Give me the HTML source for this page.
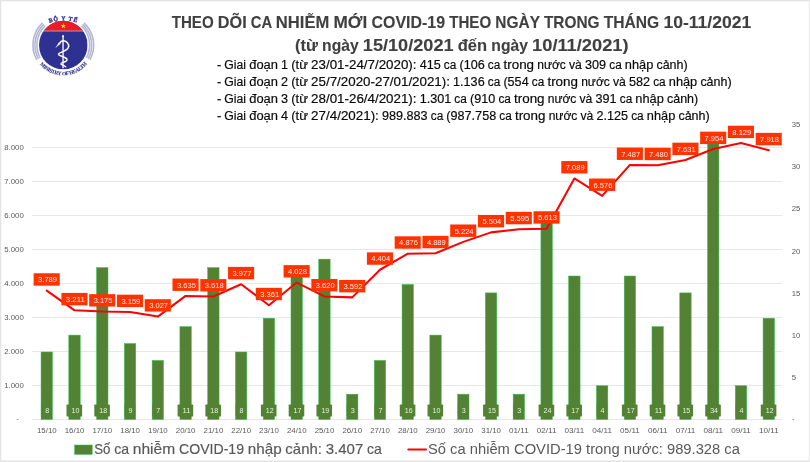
<!DOCTYPE html>
<html lang="vi"><head><meta charset="utf-8"><title>COVID-19</title>
<style>
html,body{margin:0;padding:0;background:#fff;}
body{width:810px;height:462px;overflow:hidden;font-family:"Liberation Sans",sans-serif;}
svg{display:block;font-family:"Liberation Sans",sans-serif;}
.ax{font-size:8.1px;fill:#595959;}
.dl{font-size:7.6px;fill:#fff;fill-opacity:0.9;}
.bl{font-size:7.7px;fill:#e4f2da;}
.sub{font-size:12.5px;fill:#0a0a0a;stroke:#0a0a0a;stroke-width:0.18px;}
.ttl{font-size:16.2px;font-weight:bold;fill:#404040;stroke:#404040;stroke-width:0.1px;}
.lg{font-size:14.8px;fill:#595959;stroke:#595959;stroke-width:0.18px;}
.lg2{font-size:14.45px;fill:#595959;}
</style></head><body>
<svg width="810" height="462" viewBox="0 0 810 462">
<rect x="0" y="0" width="810" height="462" fill="#fff"/>

<g stroke="#e4e4e4" stroke-width="0.9">
<line x1="32.2" y1="419.50" x2="782.3" y2="419.50"/>
<line x1="32.2" y1="385.50" x2="782.3" y2="385.50"/>
<line x1="32.2" y1="351.50" x2="782.3" y2="351.50"/>
<line x1="32.2" y1="317.50" x2="782.3" y2="317.50"/>
<line x1="32.2" y1="283.50" x2="782.3" y2="283.50"/>
<line x1="32.2" y1="249.50" x2="782.3" y2="249.50"/>
<line x1="32.2" y1="215.50" x2="782.3" y2="215.50"/>
<line x1="32.2" y1="181.50" x2="782.3" y2="181.50"/>
<line x1="32.2" y1="147.50" x2="782.3" y2="147.50"/>
</g>
<g class="ax" text-anchor="end">
<text x="4.2" y="388.30" text-anchor="start" textLength="19.6" lengthAdjust="spacingAndGlyphs">1.000</text>
<text x="4.2" y="354.30" text-anchor="start" textLength="19.6" lengthAdjust="spacingAndGlyphs">2.000</text>
<text x="4.2" y="320.30" text-anchor="start" textLength="19.6" lengthAdjust="spacingAndGlyphs">3.000</text>
<text x="4.2" y="286.30" text-anchor="start" textLength="19.6" lengthAdjust="spacingAndGlyphs">4.000</text>
<text x="4.2" y="252.30" text-anchor="start" textLength="19.6" lengthAdjust="spacingAndGlyphs">5.000</text>
<text x="4.2" y="218.30" text-anchor="start" textLength="19.6" lengthAdjust="spacingAndGlyphs">6.000</text>
<text x="4.2" y="184.30" text-anchor="start" textLength="19.6" lengthAdjust="spacingAndGlyphs">7.000</text>
<text x="4.2" y="150.30" text-anchor="start" textLength="19.6" lengthAdjust="spacingAndGlyphs">8.000</text>
<text x="18.6" y="421.40" font-size="6.5">-</text>
</g>
<g class="ax">
<text x="791.7" y="380.10" textLength="4.3" lengthAdjust="spacingAndGlyphs">5</text>
<text x="791.7" y="337.90" textLength="8.6" lengthAdjust="spacingAndGlyphs">10</text>
<text x="791.7" y="295.70" textLength="8.6" lengthAdjust="spacingAndGlyphs">15</text>
<text x="791.7" y="253.50" textLength="8.6" lengthAdjust="spacingAndGlyphs">20</text>
<text x="791.7" y="211.30" textLength="8.6" lengthAdjust="spacingAndGlyphs">25</text>
<text x="791.7" y="169.10" textLength="8.6" lengthAdjust="spacingAndGlyphs">30</text>
<text x="791.7" y="126.90" textLength="8.6" lengthAdjust="spacingAndGlyphs">35</text>
<text x="792.2" y="421.40" font-size="6.5">-</text>
</g>
<g fill="#548235" stroke="#2fbf4f" stroke-width="0.5">
<rect x="41.05" y="351.98" width="11.4" height="67.52"/>
<rect x="68.82" y="335.10" width="11.4" height="84.40"/>
<rect x="96.59" y="267.58" width="11.4" height="151.92"/>
<rect x="124.36" y="343.54" width="11.4" height="75.96"/>
<rect x="152.13" y="360.42" width="11.4" height="59.08"/>
<rect x="179.90" y="326.66" width="11.4" height="92.84"/>
<rect x="207.67" y="267.58" width="11.4" height="151.92"/>
<rect x="235.44" y="351.98" width="11.4" height="67.52"/>
<rect x="263.21" y="318.22" width="11.4" height="101.28"/>
<rect x="290.98" y="276.02" width="11.4" height="143.48"/>
<rect x="318.75" y="259.14" width="11.4" height="160.36"/>
<rect x="346.52" y="394.18" width="11.4" height="25.32"/>
<rect x="374.29" y="360.42" width="11.4" height="59.08"/>
<rect x="402.06" y="284.46" width="11.4" height="135.04"/>
<rect x="429.83" y="335.10" width="11.4" height="84.40"/>
<rect x="457.60" y="394.18" width="11.4" height="25.32"/>
<rect x="485.37" y="292.90" width="11.4" height="126.60"/>
<rect x="513.14" y="394.18" width="11.4" height="25.32"/>
<rect x="540.91" y="216.94" width="11.4" height="202.56"/>
<rect x="568.68" y="276.02" width="11.4" height="143.48"/>
<rect x="596.45" y="385.74" width="11.4" height="33.76"/>
<rect x="624.22" y="276.02" width="11.4" height="143.48"/>
<rect x="651.99" y="326.66" width="11.4" height="92.84"/>
<rect x="679.76" y="292.90" width="11.4" height="126.60"/>
<rect x="707.53" y="132.54" width="11.4" height="286.96"/>
<rect x="735.30" y="385.74" width="11.4" height="33.76"/>
<rect x="763.07" y="318.22" width="11.4" height="101.28"/>
</g>
<g fill="#548235">
<rect x="41.25" y="404.4" width="10.6" height="12.2" rx="0.9"/>
<rect x="66.52" y="404.4" width="15.6" height="12.2" rx="0.9"/>
<rect x="94.29" y="404.4" width="15.6" height="12.2" rx="0.9"/>
<rect x="124.56" y="404.4" width="10.6" height="12.2" rx="0.9"/>
<rect x="152.33" y="404.4" width="10.6" height="12.2" rx="0.9"/>
<rect x="177.60" y="404.4" width="15.6" height="12.2" rx="0.9"/>
<rect x="205.37" y="404.4" width="15.6" height="12.2" rx="0.9"/>
<rect x="235.64" y="404.4" width="10.6" height="12.2" rx="0.9"/>
<rect x="260.91" y="404.4" width="15.6" height="12.2" rx="0.9"/>
<rect x="288.68" y="404.4" width="15.6" height="12.2" rx="0.9"/>
<rect x="316.45" y="404.4" width="15.6" height="12.2" rx="0.9"/>
<rect x="346.72" y="404.4" width="10.6" height="12.2" rx="0.9"/>
<rect x="374.49" y="404.4" width="10.6" height="12.2" rx="0.9"/>
<rect x="399.76" y="404.4" width="15.6" height="12.2" rx="0.9"/>
<rect x="427.53" y="404.4" width="15.6" height="12.2" rx="0.9"/>
<rect x="457.80" y="404.4" width="10.6" height="12.2" rx="0.9"/>
<rect x="483.07" y="404.4" width="15.6" height="12.2" rx="0.9"/>
<rect x="513.34" y="404.4" width="10.6" height="12.2" rx="0.9"/>
<rect x="538.61" y="404.4" width="15.6" height="12.2" rx="0.9"/>
<rect x="566.38" y="404.4" width="15.6" height="12.2" rx="0.9"/>
<rect x="596.65" y="404.4" width="10.6" height="12.2" rx="0.9"/>
<rect x="621.92" y="404.4" width="15.6" height="12.2" rx="0.9"/>
<rect x="649.69" y="404.4" width="15.6" height="12.2" rx="0.9"/>
<rect x="677.46" y="404.4" width="15.6" height="12.2" rx="0.9"/>
<rect x="705.23" y="404.4" width="15.6" height="12.2" rx="0.9"/>
<rect x="735.50" y="404.4" width="10.6" height="12.2" rx="0.9"/>
<rect x="760.77" y="404.4" width="15.6" height="12.2" rx="0.9"/>
</g>
<g class="bl">
<text x="45.17" y="413.2" textLength="4.0" lengthAdjust="spacingAndGlyphs">8</text>
<text x="71.46" y="413.2" textLength="7.9" lengthAdjust="spacingAndGlyphs">10</text>
<text x="99.23" y="413.2" textLength="7.9" lengthAdjust="spacingAndGlyphs">18</text>
<text x="128.48" y="413.2" textLength="4.0" lengthAdjust="spacingAndGlyphs">9</text>
<text x="156.25" y="413.2" textLength="4.0" lengthAdjust="spacingAndGlyphs">7</text>
<text x="182.54" y="413.2" textLength="7.9" lengthAdjust="spacingAndGlyphs">11</text>
<text x="210.31" y="413.2" textLength="7.9" lengthAdjust="spacingAndGlyphs">18</text>
<text x="239.56" y="413.2" textLength="4.0" lengthAdjust="spacingAndGlyphs">8</text>
<text x="265.85" y="413.2" textLength="7.9" lengthAdjust="spacingAndGlyphs">12</text>
<text x="293.62" y="413.2" textLength="7.9" lengthAdjust="spacingAndGlyphs">17</text>
<text x="321.39" y="413.2" textLength="7.9" lengthAdjust="spacingAndGlyphs">19</text>
<text x="350.64" y="413.2" textLength="4.0" lengthAdjust="spacingAndGlyphs">3</text>
<text x="378.41" y="413.2" textLength="4.0" lengthAdjust="spacingAndGlyphs">7</text>
<text x="404.70" y="413.2" textLength="7.9" lengthAdjust="spacingAndGlyphs">16</text>
<text x="432.47" y="413.2" textLength="7.9" lengthAdjust="spacingAndGlyphs">10</text>
<text x="461.72" y="413.2" textLength="4.0" lengthAdjust="spacingAndGlyphs">3</text>
<text x="488.01" y="413.2" textLength="7.9" lengthAdjust="spacingAndGlyphs">15</text>
<text x="517.26" y="413.2" textLength="4.0" lengthAdjust="spacingAndGlyphs">3</text>
<text x="543.55" y="413.2" textLength="7.9" lengthAdjust="spacingAndGlyphs">24</text>
<text x="571.32" y="413.2" textLength="7.9" lengthAdjust="spacingAndGlyphs">17</text>
<text x="600.57" y="413.2" textLength="4.0" lengthAdjust="spacingAndGlyphs">4</text>
<text x="626.86" y="413.2" textLength="7.9" lengthAdjust="spacingAndGlyphs">17</text>
<text x="654.63" y="413.2" textLength="7.9" lengthAdjust="spacingAndGlyphs">11</text>
<text x="682.40" y="413.2" textLength="7.9" lengthAdjust="spacingAndGlyphs">15</text>
<text x="710.17" y="413.2" textLength="7.9" lengthAdjust="spacingAndGlyphs">34</text>
<text x="739.42" y="413.2" textLength="4.0" lengthAdjust="spacingAndGlyphs">4</text>
<text x="765.71" y="413.2" textLength="7.9" lengthAdjust="spacingAndGlyphs">12</text>
</g>
<g class="ax" text-anchor="middle">
<text x="36.95" y="433.1" text-anchor="start" textLength="19.7" lengthAdjust="spacingAndGlyphs">15/10</text>
<text x="64.72" y="433.1" text-anchor="start" textLength="19.7" lengthAdjust="spacingAndGlyphs">16/10</text>
<text x="92.49" y="433.1" text-anchor="start" textLength="19.7" lengthAdjust="spacingAndGlyphs">17/10</text>
<text x="120.26" y="433.1" text-anchor="start" textLength="19.7" lengthAdjust="spacingAndGlyphs">18/10</text>
<text x="148.03" y="433.1" text-anchor="start" textLength="19.7" lengthAdjust="spacingAndGlyphs">19/10</text>
<text x="175.80" y="433.1" text-anchor="start" textLength="19.7" lengthAdjust="spacingAndGlyphs">20/10</text>
<text x="203.57" y="433.1" text-anchor="start" textLength="19.7" lengthAdjust="spacingAndGlyphs">21/10</text>
<text x="231.34" y="433.1" text-anchor="start" textLength="19.7" lengthAdjust="spacingAndGlyphs">22/10</text>
<text x="259.11" y="433.1" text-anchor="start" textLength="19.7" lengthAdjust="spacingAndGlyphs">23/10</text>
<text x="286.88" y="433.1" text-anchor="start" textLength="19.7" lengthAdjust="spacingAndGlyphs">24/10</text>
<text x="314.65" y="433.1" text-anchor="start" textLength="19.7" lengthAdjust="spacingAndGlyphs">25/10</text>
<text x="342.42" y="433.1" text-anchor="start" textLength="19.7" lengthAdjust="spacingAndGlyphs">26/10</text>
<text x="370.19" y="433.1" text-anchor="start" textLength="19.7" lengthAdjust="spacingAndGlyphs">27/10</text>
<text x="397.96" y="433.1" text-anchor="start" textLength="19.7" lengthAdjust="spacingAndGlyphs">28/10</text>
<text x="425.73" y="433.1" text-anchor="start" textLength="19.7" lengthAdjust="spacingAndGlyphs">29/10</text>
<text x="453.50" y="433.1" text-anchor="start" textLength="19.7" lengthAdjust="spacingAndGlyphs">30/10</text>
<text x="481.27" y="433.1" text-anchor="start" textLength="19.7" lengthAdjust="spacingAndGlyphs">31/10</text>
<text x="509.04" y="433.1" text-anchor="start" textLength="19.7" lengthAdjust="spacingAndGlyphs">01/11</text>
<text x="536.81" y="433.1" text-anchor="start" textLength="19.7" lengthAdjust="spacingAndGlyphs">02/11</text>
<text x="564.58" y="433.1" text-anchor="start" textLength="19.7" lengthAdjust="spacingAndGlyphs">03/11</text>
<text x="592.35" y="433.1" text-anchor="start" textLength="19.7" lengthAdjust="spacingAndGlyphs">04/11</text>
<text x="620.12" y="433.1" text-anchor="start" textLength="19.7" lengthAdjust="spacingAndGlyphs">05/11</text>
<text x="647.89" y="433.1" text-anchor="start" textLength="19.7" lengthAdjust="spacingAndGlyphs">06/11</text>
<text x="675.66" y="433.1" text-anchor="start" textLength="19.7" lengthAdjust="spacingAndGlyphs">07/11</text>
<text x="703.43" y="433.1" text-anchor="start" textLength="19.7" lengthAdjust="spacingAndGlyphs">08/11</text>
<text x="731.20" y="433.1" text-anchor="start" textLength="19.7" lengthAdjust="spacingAndGlyphs">09/11</text>
<text x="758.97" y="433.1" text-anchor="start" textLength="19.7" lengthAdjust="spacingAndGlyphs">10/11</text>
</g>
<polyline points="46.75,290.67 74.52,310.33 102.29,311.55 130.06,312.09 157.83,316.58 185.60,295.91 213.37,296.49 241.14,284.28 268.91,305.23 296.68,282.55 324.45,296.42 352.22,297.37 379.99,269.76 407.76,253.72 435.53,253.27 463.30,241.88 491.07,232.36 518.84,229.27 546.61,228.66 574.38,178.47 602.15,195.92 629.92,164.94 657.69,165.18 685.46,160.05 713.23,149.06 741.00,143.11 768.77,150.29" fill="none" stroke="#ff0000" stroke-width="2.05" stroke-linejoin="round" stroke-linecap="round"/>
<g fill="#ff3300">
<rect x="33.65" y="273.27" width="26.1" height="12.4"/>
<rect x="61.42" y="292.93" width="26.1" height="12.4"/>
<rect x="89.19" y="294.15" width="26.1" height="12.4"/>
<rect x="116.96" y="294.69" width="26.1" height="12.4"/>
<rect x="144.73" y="299.18" width="26.1" height="12.4"/>
<rect x="172.50" y="278.51" width="26.1" height="12.4"/>
<rect x="200.27" y="279.09" width="26.1" height="12.4"/>
<rect x="228.04" y="266.88" width="26.1" height="12.4"/>
<rect x="255.81" y="287.83" width="26.1" height="12.4"/>
<rect x="283.58" y="265.15" width="26.1" height="12.4"/>
<rect x="311.35" y="279.02" width="26.1" height="12.4"/>
<rect x="339.12" y="279.97" width="26.1" height="12.4"/>
<rect x="366.89" y="252.36" width="26.1" height="12.4"/>
<rect x="394.66" y="236.32" width="26.1" height="12.4"/>
<rect x="422.43" y="235.87" width="26.1" height="12.4"/>
<rect x="450.20" y="224.48" width="26.1" height="12.4"/>
<rect x="477.97" y="214.96" width="26.1" height="12.4"/>
<rect x="505.74" y="211.87" width="26.1" height="12.4"/>
<rect x="533.51" y="211.26" width="26.1" height="12.4"/>
<rect x="561.28" y="161.07" width="26.1" height="12.4"/>
<rect x="589.05" y="178.52" width="26.1" height="12.4"/>
<rect x="616.82" y="147.54" width="26.1" height="12.4"/>
<rect x="644.59" y="147.78" width="26.1" height="12.4"/>
<rect x="672.36" y="142.65" width="26.1" height="12.4"/>
<rect x="700.13" y="131.66" width="26.1" height="12.4"/>
<rect x="727.90" y="125.71" width="26.1" height="12.4"/>
<rect x="755.67" y="132.89" width="26.1" height="12.4"/>
</g>
<g class="dl">
<text x="38.10" y="282.37" textLength="18.9" lengthAdjust="spacingAndGlyphs">3.789</text>
<text x="65.87" y="302.03" textLength="18.9" lengthAdjust="spacingAndGlyphs">3.211</text>
<text x="93.64" y="303.25" textLength="18.9" lengthAdjust="spacingAndGlyphs">3.175</text>
<text x="121.41" y="303.79" textLength="18.9" lengthAdjust="spacingAndGlyphs">3.159</text>
<text x="149.18" y="308.28" textLength="18.9" lengthAdjust="spacingAndGlyphs">3.027</text>
<text x="176.95" y="287.61" textLength="18.9" lengthAdjust="spacingAndGlyphs">3.635</text>
<text x="204.72" y="288.19" textLength="18.9" lengthAdjust="spacingAndGlyphs">3.618</text>
<text x="232.49" y="275.98" textLength="18.9" lengthAdjust="spacingAndGlyphs">3.977</text>
<text x="260.26" y="296.93" textLength="18.9" lengthAdjust="spacingAndGlyphs">3.361</text>
<text x="288.03" y="274.25" textLength="18.9" lengthAdjust="spacingAndGlyphs">4.028</text>
<text x="315.80" y="288.12" textLength="18.9" lengthAdjust="spacingAndGlyphs">3.620</text>
<text x="343.57" y="289.07" textLength="18.9" lengthAdjust="spacingAndGlyphs">3.592</text>
<text x="371.34" y="261.46" textLength="18.9" lengthAdjust="spacingAndGlyphs">4.404</text>
<text x="399.11" y="245.42" textLength="18.9" lengthAdjust="spacingAndGlyphs">4.876</text>
<text x="426.88" y="244.97" textLength="18.9" lengthAdjust="spacingAndGlyphs">4.889</text>
<text x="454.65" y="233.58" textLength="18.9" lengthAdjust="spacingAndGlyphs">5.224</text>
<text x="482.42" y="224.06" textLength="18.9" lengthAdjust="spacingAndGlyphs">5.504</text>
<text x="510.19" y="220.97" textLength="18.9" lengthAdjust="spacingAndGlyphs">5.595</text>
<text x="537.96" y="220.36" textLength="18.9" lengthAdjust="spacingAndGlyphs">5.613</text>
<text x="565.73" y="170.17" textLength="18.9" lengthAdjust="spacingAndGlyphs">7.089</text>
<text x="593.50" y="187.62" textLength="18.9" lengthAdjust="spacingAndGlyphs">6.576</text>
<text x="621.27" y="156.64" textLength="18.9" lengthAdjust="spacingAndGlyphs">7.487</text>
<text x="649.04" y="156.88" textLength="18.9" lengthAdjust="spacingAndGlyphs">7.480</text>
<text x="676.81" y="151.75" textLength="18.9" lengthAdjust="spacingAndGlyphs">7.631</text>
<text x="704.58" y="140.76" textLength="18.9" lengthAdjust="spacingAndGlyphs">7.954</text>
<text x="732.35" y="134.81" textLength="18.9" lengthAdjust="spacingAndGlyphs">8.129</text>
<text x="760.12" y="141.99" textLength="18.9" lengthAdjust="spacingAndGlyphs">7.918</text>
</g>
<text class="ttl" y="28.00"><tspan x="171.70" textLength="42.00" lengthAdjust="spacingAndGlyphs">THEO</tspan> <tspan x="217.85" textLength="28.85" lengthAdjust="spacingAndGlyphs">DÕI</tspan> <tspan x="250.85" textLength="20.81" lengthAdjust="spacingAndGlyphs">CA</tspan> <tspan x="275.81" textLength="53.55" lengthAdjust="spacingAndGlyphs">NHIỄM</tspan> <tspan x="333.52" textLength="33.78" lengthAdjust="spacingAndGlyphs">MỚI</tspan> <tspan x="371.44" textLength="73.62" lengthAdjust="spacingAndGlyphs">COVID-19</tspan> <tspan x="449.21" textLength="42.00" lengthAdjust="spacingAndGlyphs">THEO</tspan> <tspan x="495.36" textLength="44.44" lengthAdjust="spacingAndGlyphs">NGÀY</tspan> <tspan x="543.95" textLength="55.61" lengthAdjust="spacingAndGlyphs">TRONG</tspan> <tspan x="603.71" textLength="55.55" lengthAdjust="spacingAndGlyphs">THÁNG</tspan> <tspan x="663.41" textLength="87.91" lengthAdjust="spacingAndGlyphs">10-11/2021</tspan></text>
<text class="ttl" y="51.00"><tspan x="295.00" textLength="22.94" lengthAdjust="spacingAndGlyphs">(từ</tspan> <tspan x="322.12" textLength="36.54" lengthAdjust="spacingAndGlyphs">ngày</tspan> <tspan x="362.84" textLength="90.76" lengthAdjust="spacingAndGlyphs">15/10/2021</tspan> <tspan x="457.78" textLength="29.40" lengthAdjust="spacingAndGlyphs">đến</tspan> <tspan x="491.35" textLength="36.54" lengthAdjust="spacingAndGlyphs">ngày</tspan> <tspan x="532.07" textLength="96.52" lengthAdjust="spacingAndGlyphs">10/11/2021)</tspan></text>
<text class="sub" y="69.00"><tspan x="217.00" textLength="4.24" lengthAdjust="spacingAndGlyphs">-</tspan> <tspan x="224.37" textLength="21.73" lengthAdjust="spacingAndGlyphs">Giai</tspan> <tspan x="249.23" textLength="28.72" lengthAdjust="spacingAndGlyphs">đoạn</tspan> <tspan x="281.08" textLength="7.02" lengthAdjust="spacingAndGlyphs">1</tspan> <tspan x="291.23" textLength="16.76" lengthAdjust="spacingAndGlyphs">(từ</tspan> <tspan x="311.12" textLength="105.41" lengthAdjust="spacingAndGlyphs">23/01-24/7/2020):</tspan> <tspan x="419.66" textLength="21.06" lengthAdjust="spacingAndGlyphs">415</tspan> <tspan x="443.85" textLength="12.49" lengthAdjust="spacingAndGlyphs">ca</tspan> <tspan x="459.48" textLength="25.26" lengthAdjust="spacingAndGlyphs">(106</tspan> <tspan x="487.87" textLength="12.49" lengthAdjust="spacingAndGlyphs">ca</tspan> <tspan x="503.49" textLength="30.57" lengthAdjust="spacingAndGlyphs">trong</tspan> <tspan x="537.19" textLength="28.69" lengthAdjust="spacingAndGlyphs">nước</tspan> <tspan x="569.01" textLength="12.89" lengthAdjust="spacingAndGlyphs">và</tspan> <tspan x="585.03" textLength="21.06" lengthAdjust="spacingAndGlyphs">309</tspan> <tspan x="609.22" textLength="12.49" lengthAdjust="spacingAndGlyphs">ca</tspan> <tspan x="624.84" textLength="28.46" lengthAdjust="spacingAndGlyphs">nhập</tspan> <tspan x="656.44" textLength="31.24" lengthAdjust="spacingAndGlyphs">cảnh)</tspan></text>
<text class="sub" y="86.00"><tspan x="217.00" textLength="4.24" lengthAdjust="spacingAndGlyphs">-</tspan> <tspan x="224.37" textLength="21.73" lengthAdjust="spacingAndGlyphs">Giai</tspan> <tspan x="249.23" textLength="28.72" lengthAdjust="spacingAndGlyphs">đoạn</tspan> <tspan x="281.08" textLength="7.02" lengthAdjust="spacingAndGlyphs">2</tspan> <tspan x="291.23" textLength="16.76" lengthAdjust="spacingAndGlyphs">(từ</tspan> <tspan x="311.12" textLength="138.84" lengthAdjust="spacingAndGlyphs">25/7/2020-27/01/2021):</tspan> <tspan x="453.09" textLength="31.58" lengthAdjust="spacingAndGlyphs">1.136</tspan> <tspan x="487.80" textLength="12.49" lengthAdjust="spacingAndGlyphs">ca</tspan> <tspan x="503.42" textLength="25.26" lengthAdjust="spacingAndGlyphs">(554</tspan> <tspan x="531.81" textLength="12.49" lengthAdjust="spacingAndGlyphs">ca</tspan> <tspan x="547.43" textLength="30.57" lengthAdjust="spacingAndGlyphs">trong</tspan> <tspan x="581.13" textLength="28.69" lengthAdjust="spacingAndGlyphs">nước</tspan> <tspan x="612.96" textLength="12.89" lengthAdjust="spacingAndGlyphs">và</tspan> <tspan x="628.98" textLength="21.06" lengthAdjust="spacingAndGlyphs">582</tspan> <tspan x="653.17" textLength="12.49" lengthAdjust="spacingAndGlyphs">ca</tspan> <tspan x="668.79" textLength="28.46" lengthAdjust="spacingAndGlyphs">nhập</tspan> <tspan x="700.38" textLength="31.24" lengthAdjust="spacingAndGlyphs">cảnh)</tspan></text>
<text class="sub" y="103.00"><tspan x="217.00" textLength="4.24" lengthAdjust="spacingAndGlyphs">-</tspan> <tspan x="224.37" textLength="21.73" lengthAdjust="spacingAndGlyphs">Giai</tspan> <tspan x="249.23" textLength="28.72" lengthAdjust="spacingAndGlyphs">đoạn</tspan> <tspan x="281.08" textLength="7.02" lengthAdjust="spacingAndGlyphs">3</tspan> <tspan x="291.23" textLength="16.76" lengthAdjust="spacingAndGlyphs">(từ</tspan> <tspan x="311.12" textLength="105.41" lengthAdjust="spacingAndGlyphs">28/01-26/4/2021):</tspan> <tspan x="419.66" textLength="31.58" lengthAdjust="spacingAndGlyphs">1.301</tspan> <tspan x="454.37" textLength="12.49" lengthAdjust="spacingAndGlyphs">ca</tspan> <tspan x="469.99" textLength="25.26" lengthAdjust="spacingAndGlyphs">(910</tspan> <tspan x="498.38" textLength="12.49" lengthAdjust="spacingAndGlyphs">ca</tspan> <tspan x="514.00" textLength="30.57" lengthAdjust="spacingAndGlyphs">trong</tspan> <tspan x="547.70" textLength="28.69" lengthAdjust="spacingAndGlyphs">nước</tspan> <tspan x="579.53" textLength="12.89" lengthAdjust="spacingAndGlyphs">và</tspan> <tspan x="595.55" textLength="21.06" lengthAdjust="spacingAndGlyphs">391</tspan> <tspan x="619.74" textLength="12.49" lengthAdjust="spacingAndGlyphs">ca</tspan> <tspan x="635.36" textLength="28.46" lengthAdjust="spacingAndGlyphs">nhập</tspan> <tspan x="666.96" textLength="31.24" lengthAdjust="spacingAndGlyphs">cảnh)</tspan></text>
<text class="sub" y="120.00"><tspan x="217.00" textLength="4.24" lengthAdjust="spacingAndGlyphs">-</tspan> <tspan x="224.37" textLength="21.73" lengthAdjust="spacingAndGlyphs">Giai</tspan> <tspan x="249.23" textLength="28.72" lengthAdjust="spacingAndGlyphs">đoạn</tspan> <tspan x="281.08" textLength="7.02" lengthAdjust="spacingAndGlyphs">4</tspan> <tspan x="291.23" textLength="16.76" lengthAdjust="spacingAndGlyphs">(từ</tspan> <tspan x="311.12" textLength="67.74" lengthAdjust="spacingAndGlyphs">27/4/2021):</tspan> <tspan x="382.00" textLength="45.61" lengthAdjust="spacingAndGlyphs">989.883</tspan> <tspan x="430.74" textLength="12.49" lengthAdjust="spacingAndGlyphs">ca</tspan> <tspan x="446.36" textLength="49.81" lengthAdjust="spacingAndGlyphs">(987.758</tspan> <tspan x="499.31" textLength="12.49" lengthAdjust="spacingAndGlyphs">ca</tspan> <tspan x="514.93" textLength="30.57" lengthAdjust="spacingAndGlyphs">trong</tspan> <tspan x="548.63" textLength="28.69" lengthAdjust="spacingAndGlyphs">nước</tspan> <tspan x="580.45" textLength="12.89" lengthAdjust="spacingAndGlyphs">và</tspan> <tspan x="596.48" textLength="31.58" lengthAdjust="spacingAndGlyphs">2.125</tspan> <tspan x="631.18" textLength="12.49" lengthAdjust="spacingAndGlyphs">ca</tspan> <tspan x="646.80" textLength="28.46" lengthAdjust="spacingAndGlyphs">nhập</tspan> <tspan x="678.40" textLength="31.24" lengthAdjust="spacingAndGlyphs">cảnh)</tspan></text>
<rect x="74.6" y="445" width="17.6" height="9.4" fill="#548235" stroke="#2fbf4f" stroke-width="0.5"/>
<text class="lg" y="454.40"><tspan x="94.20" textLength="16.26" lengthAdjust="spacingAndGlyphs">Số</tspan> <tspan x="114.19" textLength="14.86" lengthAdjust="spacingAndGlyphs">ca</tspan> <tspan x="132.78" textLength="42.46" lengthAdjust="spacingAndGlyphs">nhiễm</tspan> <tspan x="178.97" textLength="65.09" lengthAdjust="spacingAndGlyphs">COVID-19</tspan> <tspan x="247.78" textLength="33.87" lengthAdjust="spacingAndGlyphs">nhập</tspan> <tspan x="285.38" textLength="36.59" lengthAdjust="spacingAndGlyphs">cảnh:</tspan> <tspan x="325.69" textLength="37.57" lengthAdjust="spacingAndGlyphs">3.407</tspan> <tspan x="366.99" textLength="14.86" lengthAdjust="spacingAndGlyphs">ca</tspan></text>
<line x1="408.3" y1="449.6" x2="426.0" y2="449.6" stroke="#ff0000" stroke-width="2" stroke-linecap="round"/>
<text class="lg2" x="428" y="454.4" textLength="311.9" lengthAdjust="spacingAndGlyphs">Số ca nhiễm COVID-19 trong nước: 989.328 ca</text>
<g id="logo">
<path d="M45.30,25.79 A26.4,26.4 0 0 0 40.21,57.90" fill="none" stroke="#b2b7d3" stroke-width="1.55"/>
<path d="M81.30,25.79 A26.4,26.4 0 0 1 86.39,57.90" fill="none" stroke="#b2b7d3" stroke-width="1.55"/>
<path d="M43.93,24.33 A28.4,28.4 0 0 0 38.46,58.87" fill="none" stroke="#b2b7d3" stroke-width="1.55"/>
<path d="M82.67,24.33 A28.4,28.4 0 0 1 88.14,58.87" fill="none" stroke="#b2b7d3" stroke-width="1.55"/>
<path d="M42.57,22.87 A30.4,30.4 0 0 0 36.71,59.84" fill="none" stroke="#b2b7d3" stroke-width="1.55"/>
<path d="M84.03,22.87 A30.4,30.4 0 0 1 89.89,59.84" fill="none" stroke="#b2b7d3" stroke-width="1.55"/>
<defs><clipPath id="lc"><circle cx="63.3" cy="45.1" r="24.3"/></clipPath>
<path id="tp1" d="M33.30,32.91 A42.0,42.0 0 0 1 93.30,32.91"/>
<path id="tp2" d="M33.00,45.10 A30.3,30.3 0 0 0 93.60,45.10"/>
</defs>
<g clip-path="url(#lc)">
<rect x="39.00" y="20.80" width="48.60" height="48.60" fill="#2e3192"/>
<rect x="39.00" y="20.80" width="48.60" height="10.00" fill="#ea1c24"/>
<rect x="39.00" y="30.7" width="48.60" height="0.6" fill="#e9e4f0"/>
</g>
<polygon points="63.30,23.30 63.95,25.11 65.87,25.17 64.35,26.34 64.89,28.18 63.30,27.10 61.71,28.18 62.25,26.34 60.73,25.17 62.65,25.11" fill="#ffe81a"/>
<line x1="63.05" y1="36.0" x2="63.05" y2="67.8" stroke="#fff" stroke-width="1.3" stroke-linecap="round"/>
<circle cx="63.05" cy="36.2" r="1.0" fill="#fff"/>
<path d="M59.4,43.6 C60.5,41.5 62,40.6 63.6,40.8 C67,41.3 69,44 68.6,46.6 C68.2,49.2 65.5,50.5 63,51.6 C60.5,52.7 58.4,53 58.5,54.3 C58.6,55.6 61,56 63,56.7 C65.5,57.6 67.2,58.4 67,59.8 C66.8,61.2 64.8,61.8 63,62.4 C61.6,62.9 60.8,63.2 61,63.9 C61.3,64.8 64,65.3 65.6,66.8" fill="none" stroke="#fff" stroke-width="1.5" stroke-linecap="round" stroke-linejoin="round"/>
<polygon points="55.2,48.3 58.9,42.5 60.4,43.7" fill="#fff"/>
<text font-size="5.9" font-weight="bold" fill="#34368f" stroke="#34368f" stroke-width="0.3" text-anchor="middle" font-family="'Liberation Serif',serif" letter-spacing="0.8"><textPath href="#tp1" startOffset="50%">BỘ Y TẾ</textPath></text>
<text font-size="5.4" font-weight="bold" fill="#34368f" text-anchor="middle" font-family="'Liberation Serif',serif" stroke="#34368f" stroke-width="0.12" letter-spacing="-0.4" word-spacing="0.5"><textPath href="#tp2" startOffset="50%">MINISTRY OF HEALTH</textPath></text>
</g>
<rect x="0" y="0" width="810" height="1" fill="#e2e2e2"/><rect x="0" y="1" width="810" height="1" fill="#f8f8f8"/>
<rect x="0" y="0" width="1" height="462" fill="#e4e4e4"/><rect x="1" y="1" width="1" height="461" fill="#f7f7f7"/>
<rect x="809" y="0" width="1" height="462" fill="#ebebeb"/><rect x="808" y="1" width="1" height="460" fill="#fafafa"/>
<rect x="0" y="461" width="810" height="1" fill="#e3e3e3"/><rect x="1" y="460" width="808" height="1" fill="#f1f1f1"/>
</svg></body></html>
